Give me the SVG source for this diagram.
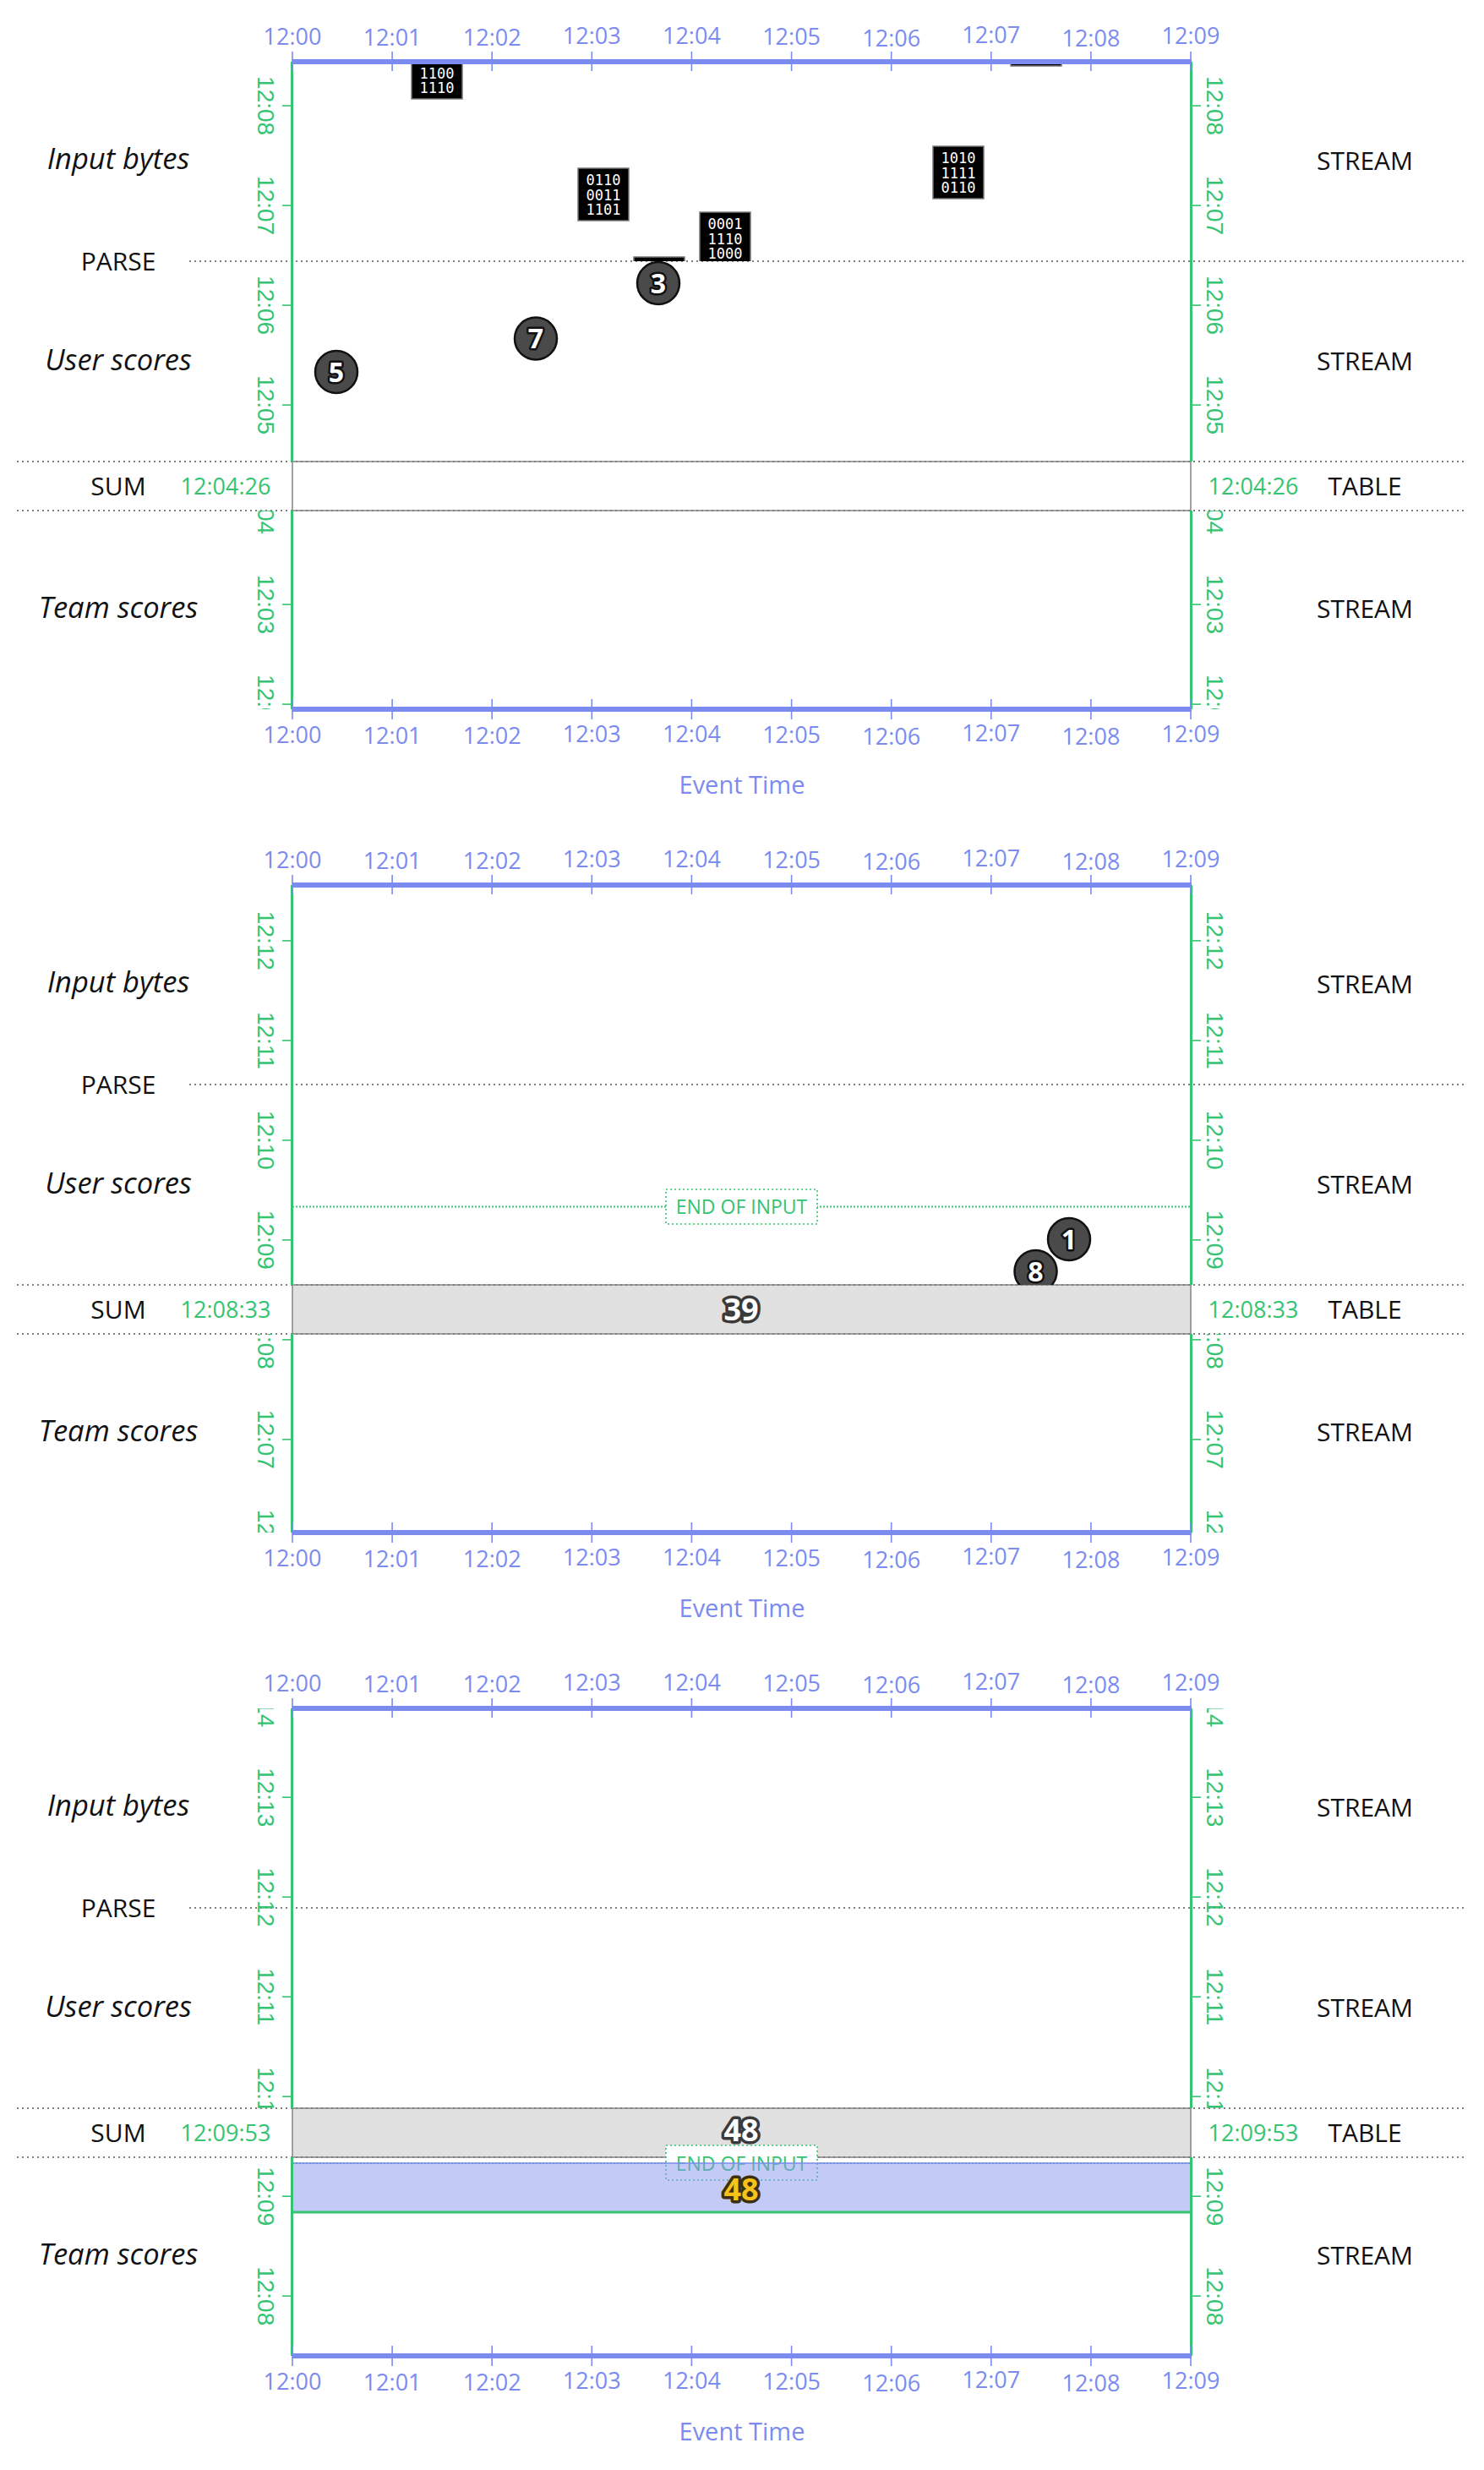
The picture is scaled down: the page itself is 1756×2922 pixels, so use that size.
<svg xmlns="http://www.w3.org/2000/svg" width="1756" height="2922" viewBox="0 0 1756 2922">
<style>
.bg{fill:#fff}
.bax{fill:#7b8bef}
.tk{stroke:#7b8bef;stroke-width:1.6}
.gax{stroke:#34c472;stroke-width:3;fill:none}
.gtk{stroke:#34c472;stroke-width:1.6}
.tl{font-family:"Open Sans","Liberation Sans",sans-serif;font-size:27px;fill:#7b8bef;text-anchor:middle}
.gl{font-family:"Liberation Sans",Arial,sans-serif;font-size:28px;fill:#34c472;text-anchor:middle}
.gt{font-family:"Open Sans","Liberation Sans",sans-serif;font-size:27px;fill:#34c472;text-anchor:middle}
.lab{font-family:"Open Sans","Liberation Sans",sans-serif;font-size:30px;fill:#111;text-anchor:middle}
.it{font-style:italic;font-size:34.5px}
.et{font-family:"Open Sans","Liberation Sans",sans-serif;font-size:29px;fill:#7b8bef;text-anchor:middle}
.dot{stroke:#808080;stroke-width:2;stroke-dasharray:2 4;fill:none}
.band{stroke:#8a8a8a;stroke-width:1.6}
.blk{fill:#000;stroke:#777;stroke-width:1.5}
.bt{font-family:"DejaVu Sans Mono","Liberation Mono",monospace;font-size:17px;fill:#fff;text-anchor:middle}
.circ{fill:#4a4a4a;stroke:#111;stroke-width:2.5}
.cn{font-family:"Open Sans","Liberation Sans",sans-serif;font-weight:700;font-size:32px;fill:#fff;stroke:#111;stroke-width:5;paint-order:stroke;stroke-linejoin:round;text-anchor:middle}
.big{font-family:"Open Sans","Liberation Sans",sans-serif;font-weight:700;font-size:36px;stroke-width:7;paint-order:stroke;stroke-linejoin:round;text-anchor:middle}
.eol{stroke:#34c472;stroke-width:2;stroke-dasharray:2 2;fill:none}
.eob{fill:#fff;stroke:#34c472;stroke-width:1.6;stroke-dasharray:2 3}
.eot{font-family:"Open Sans","Liberation Sans",sans-serif;font-size:23px;fill:#34c472;text-anchor:middle}
</style>
<defs>
<clipPath id="cTop"><rect x="0" y="73" width="1756" height="473"/></clipPath>
<clipPath id="cTeam"><rect x="0" y="604" width="1756" height="235"/></clipPath>
<clipPath id="cInp"><rect x="346" y="73" width="1063" height="236"/></clipPath>
<clipPath id="cUsr"><rect x="346" y="309" width="1063" height="237"/></clipPath>
</defs>
<rect class="bg" x="0" y="0" width="1756" height="2922"/>

<!-- ================= PANEL 1 ================= -->
<g id="panel1">
<g id="p1-rows">
<rect id="p1-sum" class="band" x="346" y="546" width="1063" height="58" fill="#fff"/>
<line class="dot" x1="224" y1="309" x2="1734" y2="309"/>
<line class="dot" x1="20" y1="546" x2="1734" y2="546"/>
<line class="dot" x1="20" y1="604" x2="1734" y2="604"/>
</g>
<g id="p1-events">
<g clip-path="url(#cInp)">
<g id="p1-b1"><rect class="blk" x="487" y="55" width="60" height="62"/><text class="bt" x="517" y="92.5">1100</text><text class="bt" x="517" y="110">1110</text></g>
<g id="p1-b2"><rect class="blk" x="684" y="199" width="60" height="62"/><text class="bt" x="714" y="219">0110</text><text class="bt" x="714" y="236.5">0011</text><text class="bt" x="714" y="254">1101</text></g>
<g id="p1-b3"><rect class="blk" x="828" y="251" width="60" height="62"/><text class="bt" x="858" y="271">0001</text><text class="bt" x="858" y="288.5">1110</text><text class="bt" x="858" y="306">1000</text></g>
<g id="p1-b4"><rect class="blk" x="1104" y="173" width="60" height="62"/><text class="bt" x="1134" y="193">1010</text><text class="bt" x="1134" y="210.5">1111</text><text class="bt" x="1134" y="228">0110</text></g>
<g id="p1-b5"><rect class="blk" x="1196" y="16" width="60" height="62"/></g>
<g id="p1-b6"><rect class="blk" x="750" y="304" width="60" height="62"/></g>
</g>
<g clip-path="url(#cUsr)">
<g id="p1-c5"><circle class="circ" cx="398" cy="440" r="25"/><text class="cn" x="398" y="451.5">5</text></g>
<g id="p1-c7"><circle class="circ" cx="634" cy="400.5" r="25"/><text class="cn" x="634" y="412">7</text></g>
<g id="p1-c3"><circle class="circ" cx="779" cy="335" r="25"/><text class="cn" x="779" y="346.5">3</text></g>
</g>
</g>
<g id="p1-ptime">
<g clip-path="url(#cTop)">
<line class="gtk" x1="334" y1="125.1" x2="345" y2="125.1"/><line class="gtk" x1="1410" y1="125.1" x2="1421" y2="125.1"/>
<line class="gtk" x1="334" y1="243.1" x2="345" y2="243.1"/><line class="gtk" x1="1410" y1="243.1" x2="1421" y2="243.1"/>
<line class="gtk" x1="334" y1="361.1" x2="345" y2="361.1"/><line class="gtk" x1="1410" y1="361.1" x2="1421" y2="361.1"/>
<line class="gtk" x1="334" y1="479.1" x2="345" y2="479.1"/><line class="gtk" x1="1410" y1="479.1" x2="1421" y2="479.1"/>
<text class="gl" transform="translate(305,125.1) rotate(90)">12:08</text><text class="gl" transform="translate(1428,125.1) rotate(90)">12:08</text>
<text class="gl" transform="translate(305,243.1) rotate(90)">12:07</text><text class="gl" transform="translate(1428,243.1) rotate(90)">12:07</text>
<text class="gl" transform="translate(305,361.1) rotate(90)">12:06</text><text class="gl" transform="translate(1428,361.1) rotate(90)">12:06</text>
<text class="gl" transform="translate(305,479.1) rotate(90)">12:05</text><text class="gl" transform="translate(1428,479.1) rotate(90)">12:05</text>
</g>
<g clip-path="url(#cTeam)">
<line class="gtk" x1="334" y1="715.1" x2="345" y2="715.1"/><line class="gtk" x1="1410" y1="715.1" x2="1421" y2="715.1"/>
<line class="gtk" x1="334" y1="833.1" x2="345" y2="833.1"/><line class="gtk" x1="1410" y1="833.1" x2="1421" y2="833.1"/>
<text class="gl" transform="translate(305,597.1) rotate(90)">12:04</text><text class="gl" transform="translate(1428,597.1) rotate(90)">12:04</text>
<text class="gl" transform="translate(305,715.1) rotate(90)">12:03</text><text class="gl" transform="translate(1428,715.1) rotate(90)">12:03</text>
<text class="gl" transform="translate(305,833.1) rotate(90)">12:02</text><text class="gl" transform="translate(1428,833.1) rotate(90)">12:02</text>
</g>
</g>
<g id="p1-axes">
<line class="gax" x1="345.5" y1="73" x2="345.5" y2="546"/><line class="gax" x1="345.5" y1="604" x2="345.5" y2="839"/>
<line class="gax" x1="1409.5" y1="73" x2="1409.5" y2="546"/><line class="gax" x1="1409.5" y1="604" x2="1409.5" y2="839"/>
<rect class="bax" x="346" y="70" width="1064" height="6"/>
<rect class="bax" x="346" y="836" width="1064" height="6"/>
<line class="tk" x1="346" y1="61" x2="346" y2="84"/><line class="tk" x1="464.1" y1="61" x2="464.1" y2="84"/><line class="tk" x1="582.2" y1="61" x2="582.2" y2="84"/><line class="tk" x1="700.3" y1="61" x2="700.3" y2="84"/><line class="tk" x1="818.4" y1="61" x2="818.4" y2="84"/><line class="tk" x1="936.6" y1="61" x2="936.6" y2="84"/><line class="tk" x1="1054.7" y1="61" x2="1054.7" y2="84"/><line class="tk" x1="1172.8" y1="61" x2="1172.8" y2="84"/><line class="tk" x1="1290.9" y1="61" x2="1290.9" y2="84"/><line class="tk" x1="1409" y1="61" x2="1409" y2="84"/>
<line class="tk" x1="346" y1="827" x2="346" y2="851"/><line class="tk" x1="464.1" y1="827" x2="464.1" y2="851"/><line class="tk" x1="582.2" y1="827" x2="582.2" y2="851"/><line class="tk" x1="700.3" y1="827" x2="700.3" y2="851"/><line class="tk" x1="818.4" y1="827" x2="818.4" y2="851"/><line class="tk" x1="936.6" y1="827" x2="936.6" y2="851"/><line class="tk" x1="1054.7" y1="827" x2="1054.7" y2="851"/><line class="tk" x1="1172.8" y1="827" x2="1172.8" y2="851"/><line class="tk" x1="1290.9" y1="827" x2="1290.9" y2="851"/><line class="tk" x1="1409" y1="827" x2="1409" y2="851"/>
</g>
<g id="p1-etime">
<text class="tl" x="346" y="53">12:00</text><text class="tl" x="464.1" y="53.5">12:01</text><text class="tl" x="582.2" y="53.5">12:02</text><text class="tl" x="700.3" y="52">12:03</text><text class="tl" x="818.4" y="52">12:04</text><text class="tl" x="936.6" y="53">12:05</text><text class="tl" x="1054.7" y="54.5">12:06</text><text class="tl" x="1172.8" y="51">12:07</text><text class="tl" x="1290.9" y="54.5">12:08</text><text class="tl" x="1409" y="52">12:09</text>
<text class="tl" x="346" y="879">12:00</text><text class="tl" x="464.1" y="879.5">12:01</text><text class="tl" x="582.2" y="879.5">12:02</text><text class="tl" x="700.3" y="878">12:03</text><text class="tl" x="818.4" y="878">12:04</text><text class="tl" x="936.6" y="879">12:05</text><text class="tl" x="1054.7" y="880.5">12:06</text><text class="tl" x="1172.8" y="877">12:07</text><text class="tl" x="1290.9" y="880.5">12:08</text><text class="tl" x="1409" y="878">12:09</text>
<text class="et" x="878" y="939">Event Time</text>
</g>
<g id="p1-labels">
<text class="lab it" x="140" y="200">Input bytes</text>
<text class="lab" x="140" y="319.5">PARSE</text>
<text class="lab it" x="140" y="438">User scores</text>
<text class="lab" x="140" y="585.5">SUM</text>
<text class="lab it" x="140" y="731">Team scores</text>
<text class="lab" x="1615" y="201">STREAM</text>
<text class="lab" x="1615" y="438">STREAM</text>
<text class="lab" x="1615" y="585.5">TABLE</text>
<text class="lab" x="1615" y="731">STREAM</text>
<text class="gt" x="267" y="585">12:04:26</text>
<text class="gt" x="1483" y="585">12:04:26</text>
</g>
</g>

<!-- ================= PANEL 2 ================= -->
<g id="panel2" transform="translate(0,974)">
<g id="p2-rows">
<rect id="p2-sum" class="band" x="346" y="546" width="1063" height="58" fill="#e0e0e0"/>
<line class="dot" x1="224" y1="309" x2="1734" y2="309"/>
<line class="dot" x1="20" y1="546" x2="1734" y2="546"/>
<line class="dot" x1="20" y1="604" x2="1734" y2="604"/>
<text id="p2-val" class="big" x="877" y="588" fill="#fff" stroke="#3a3a3a">39</text>
</g>
<g id="p2-events">
<g id="p2-eoi"><line class="eol" x1="346" y1="453.5" x2="1409" y2="453.5"/><rect class="eob" x="788" y="433" width="179" height="41"/><text class="eot" x="877.5" y="462">END OF INPUT</text></g>
<g clip-path="url(#cUsr)">
<g id="p2-c1"><circle class="circ" cx="1265" cy="492" r="25"/><text class="cn" x="1265" y="503.5">1</text></g>
<g id="p2-c8"><circle class="circ" cx="1225.5" cy="530" r="25"/><text class="cn" x="1225.5" y="541.5">8</text></g>
</g>
</g>
<g id="p2-ptime">
<g clip-path="url(#cTop)">
<line class="gtk" x1="334" y1="138.9" x2="345" y2="138.9"/><line class="gtk" x1="1410" y1="138.9" x2="1421" y2="138.9"/>
<line class="gtk" x1="334" y1="256.9" x2="345" y2="256.9"/><line class="gtk" x1="1410" y1="256.9" x2="1421" y2="256.9"/>
<line class="gtk" x1="334" y1="374.9" x2="345" y2="374.9"/><line class="gtk" x1="1410" y1="374.9" x2="1421" y2="374.9"/>
<line class="gtk" x1="334" y1="492.9" x2="345" y2="492.9"/><line class="gtk" x1="1410" y1="492.9" x2="1421" y2="492.9"/>
<text class="gl" transform="translate(305,138.9) rotate(90)">12:12</text><text class="gl" transform="translate(1428,138.9) rotate(90)">12:12</text>
<text class="gl" transform="translate(305,256.9) rotate(90)">12:11</text><text class="gl" transform="translate(1428,256.9) rotate(90)">12:11</text>
<text class="gl" transform="translate(305,374.9) rotate(90)">12:10</text><text class="gl" transform="translate(1428,374.9) rotate(90)">12:10</text>
<text class="gl" transform="translate(305,492.9) rotate(90)">12:09</text><text class="gl" transform="translate(1428,492.9) rotate(90)">12:09</text>
</g>
<g clip-path="url(#cTeam)">
<line class="gtk" x1="334" y1="610.9" x2="345" y2="610.9"/><line class="gtk" x1="1410" y1="610.9" x2="1421" y2="610.9"/>
<line class="gtk" x1="334" y1="728.9" x2="345" y2="728.9"/><line class="gtk" x1="1410" y1="728.9" x2="1421" y2="728.9"/>
<text class="gl" transform="translate(305,610.9) rotate(90)">12:08</text><text class="gl" transform="translate(1428,610.9) rotate(90)">12:08</text>
<text class="gl" transform="translate(305,728.9) rotate(90)">12:07</text><text class="gl" transform="translate(1428,728.9) rotate(90)">12:07</text>
<text class="gl" transform="translate(305,846.9) rotate(90)">12:06</text><text class="gl" transform="translate(1428,846.9) rotate(90)">12:06</text>
</g>
</g>
<g id="p2-axes">
<line class="gax" x1="345.5" y1="73" x2="345.5" y2="546"/><line class="gax" x1="345.5" y1="604" x2="345.5" y2="839"/>
<line class="gax" x1="1409.5" y1="73" x2="1409.5" y2="546"/><line class="gax" x1="1409.5" y1="604" x2="1409.5" y2="839"/>
<rect class="bax" x="346" y="70" width="1064" height="6"/>
<rect class="bax" x="346" y="836" width="1064" height="6"/>
<line class="tk" x1="346" y1="61" x2="346" y2="84"/><line class="tk" x1="464.1" y1="61" x2="464.1" y2="84"/><line class="tk" x1="582.2" y1="61" x2="582.2" y2="84"/><line class="tk" x1="700.3" y1="61" x2="700.3" y2="84"/><line class="tk" x1="818.4" y1="61" x2="818.4" y2="84"/><line class="tk" x1="936.6" y1="61" x2="936.6" y2="84"/><line class="tk" x1="1054.7" y1="61" x2="1054.7" y2="84"/><line class="tk" x1="1172.8" y1="61" x2="1172.8" y2="84"/><line class="tk" x1="1290.9" y1="61" x2="1290.9" y2="84"/><line class="tk" x1="1409" y1="61" x2="1409" y2="84"/>
<line class="tk" x1="346" y1="827" x2="346" y2="851"/><line class="tk" x1="464.1" y1="827" x2="464.1" y2="851"/><line class="tk" x1="582.2" y1="827" x2="582.2" y2="851"/><line class="tk" x1="700.3" y1="827" x2="700.3" y2="851"/><line class="tk" x1="818.4" y1="827" x2="818.4" y2="851"/><line class="tk" x1="936.6" y1="827" x2="936.6" y2="851"/><line class="tk" x1="1054.7" y1="827" x2="1054.7" y2="851"/><line class="tk" x1="1172.8" y1="827" x2="1172.8" y2="851"/><line class="tk" x1="1290.9" y1="827" x2="1290.9" y2="851"/><line class="tk" x1="1409" y1="827" x2="1409" y2="851"/>
</g>
<g id="p2-etime">
<text class="tl" x="346" y="53">12:00</text><text class="tl" x="464.1" y="53.5">12:01</text><text class="tl" x="582.2" y="53.5">12:02</text><text class="tl" x="700.3" y="52">12:03</text><text class="tl" x="818.4" y="52">12:04</text><text class="tl" x="936.6" y="53">12:05</text><text class="tl" x="1054.7" y="54.5">12:06</text><text class="tl" x="1172.8" y="51">12:07</text><text class="tl" x="1290.9" y="54.5">12:08</text><text class="tl" x="1409" y="52">12:09</text>
<text class="tl" x="346" y="879">12:00</text><text class="tl" x="464.1" y="879.5">12:01</text><text class="tl" x="582.2" y="879.5">12:02</text><text class="tl" x="700.3" y="878">12:03</text><text class="tl" x="818.4" y="878">12:04</text><text class="tl" x="936.6" y="879">12:05</text><text class="tl" x="1054.7" y="880.5">12:06</text><text class="tl" x="1172.8" y="877">12:07</text><text class="tl" x="1290.9" y="880.5">12:08</text><text class="tl" x="1409" y="878">12:09</text>
<text class="et" x="878" y="939">Event Time</text>
</g>
<g id="p2-labels">
<text class="lab it" x="140" y="200">Input bytes</text>
<text class="lab" x="140" y="319.5">PARSE</text>
<text class="lab it" x="140" y="438">User scores</text>
<text class="lab" x="140" y="585.5">SUM</text>
<text class="lab it" x="140" y="731">Team scores</text>
<text class="lab" x="1615" y="201">STREAM</text>
<text class="lab" x="1615" y="438">STREAM</text>
<text class="lab" x="1615" y="585.5">TABLE</text>
<text class="lab" x="1615" y="731">STREAM</text>
<text class="gt" x="267" y="585">12:08:33</text>
<text class="gt" x="1483" y="585">12:08:33</text>
</g>
</g>

<!-- ================= PANEL 3 ================= -->
<g id="panel3" transform="translate(0,1948)">
<g id="p3-rows">
<rect id="p3-sum" class="band" x="346" y="546" width="1063" height="58" fill="#e0e0e0"/>
<line class="dot" x1="224" y1="309" x2="1734" y2="309"/>
<line class="dot" x1="20" y1="546" x2="1734" y2="546"/>
<line class="dot" x1="20" y1="604" x2="1734" y2="604"/>
<text id="p3-val" class="big" x="877" y="585" fill="#fff" stroke="#3a3a3a">48</text>
</g>
<g id="p3-events">
<g id="p3-eoi"><line class="eol" x1="346" y1="611" x2="1409" y2="611"/><rect class="eob" x="788" y="590" width="179" height="41"/><text class="eot" x="877.5" y="619.5" fill="#49b59c">END OF INPUT</text></g>
<g id="p3-out">
<rect x="346" y="611" width="1063" height="58" fill="#8796ee" fill-opacity="0.5"/>
<line x1="346" y1="611" x2="1409" y2="611" stroke="#7b8bef" stroke-width="1.6"/>
<line x1="346" y1="669" x2="1409" y2="669" stroke="#34c472" stroke-width="3"/>
<text id="p3-val2" class="big" x="877" y="655" fill="#f7c31b" stroke="#3b3010">48</text>
</g>
</g>
<g id="p3-ptime">
<g clip-path="url(#cTop)">
<line class="gtk" x1="334" y1="60.2" x2="345" y2="60.2"/>
<line class="gtk" x1="334" y1="178.2" x2="345" y2="178.2"/><line class="gtk" x1="1410" y1="178.2" x2="1421" y2="178.2"/>
<line class="gtk" x1="334" y1="296.2" x2="345" y2="296.2"/><line class="gtk" x1="1410" y1="296.2" x2="1421" y2="296.2"/>
<line class="gtk" x1="334" y1="414.2" x2="345" y2="414.2"/><line class="gtk" x1="1410" y1="414.2" x2="1421" y2="414.2"/>
<line class="gtk" x1="334" y1="532.2" x2="345" y2="532.2"/><line class="gtk" x1="1410" y1="532.2" x2="1421" y2="532.2"/>
<text class="gl" transform="translate(305,60.2) rotate(90)">12:14</text><text class="gl" transform="translate(1428,60.2) rotate(90)">12:14</text>
<text class="gl" transform="translate(305,178.2) rotate(90)">12:13</text><text class="gl" transform="translate(1428,178.2) rotate(90)">12:13</text>
<text class="gl" transform="translate(305,296.2) rotate(90)">12:12</text><text class="gl" transform="translate(1428,296.2) rotate(90)">12:12</text>
<text class="gl" transform="translate(305,414.2) rotate(90)">12:11</text><text class="gl" transform="translate(1428,414.2) rotate(90)">12:11</text>
<text class="gl" transform="translate(305,532.2) rotate(90)">12:10</text><text class="gl" transform="translate(1428,532.2) rotate(90)">12:10</text>
</g>
<g clip-path="url(#cTeam)">
<line class="gtk" x1="334" y1="650.2" x2="345" y2="650.2"/><line class="gtk" x1="1410" y1="650.2" x2="1421" y2="650.2"/>
<line class="gtk" x1="334" y1="768.2" x2="345" y2="768.2"/><line class="gtk" x1="1410" y1="768.2" x2="1421" y2="768.2"/>
<text class="gl" transform="translate(305,650.2) rotate(90)">12:09</text><text class="gl" transform="translate(1428,650.2) rotate(90)">12:09</text>
<text class="gl" transform="translate(305,768.2) rotate(90)">12:08</text><text class="gl" transform="translate(1428,768.2) rotate(90)">12:08</text>
</g>
</g>
<g id="p3-axes">
<line class="gax" x1="345.5" y1="73" x2="345.5" y2="546"/><line class="gax" x1="345.5" y1="604" x2="345.5" y2="839"/>
<line class="gax" x1="1409.5" y1="73" x2="1409.5" y2="546"/><line class="gax" x1="1409.5" y1="604" x2="1409.5" y2="839"/>
<rect class="bax" x="346" y="70" width="1064" height="6"/>
<rect class="bax" x="346" y="836" width="1064" height="6"/>
<line class="tk" x1="346" y1="61" x2="346" y2="84"/><line class="tk" x1="464.1" y1="61" x2="464.1" y2="84"/><line class="tk" x1="582.2" y1="61" x2="582.2" y2="84"/><line class="tk" x1="700.3" y1="61" x2="700.3" y2="84"/><line class="tk" x1="818.4" y1="61" x2="818.4" y2="84"/><line class="tk" x1="936.6" y1="61" x2="936.6" y2="84"/><line class="tk" x1="1054.7" y1="61" x2="1054.7" y2="84"/><line class="tk" x1="1172.8" y1="61" x2="1172.8" y2="84"/><line class="tk" x1="1290.9" y1="61" x2="1290.9" y2="84"/><line class="tk" x1="1409" y1="61" x2="1409" y2="84"/>
<line class="tk" x1="346" y1="827" x2="346" y2="851"/><line class="tk" x1="464.1" y1="827" x2="464.1" y2="851"/><line class="tk" x1="582.2" y1="827" x2="582.2" y2="851"/><line class="tk" x1="700.3" y1="827" x2="700.3" y2="851"/><line class="tk" x1="818.4" y1="827" x2="818.4" y2="851"/><line class="tk" x1="936.6" y1="827" x2="936.6" y2="851"/><line class="tk" x1="1054.7" y1="827" x2="1054.7" y2="851"/><line class="tk" x1="1172.8" y1="827" x2="1172.8" y2="851"/><line class="tk" x1="1290.9" y1="827" x2="1290.9" y2="851"/><line class="tk" x1="1409" y1="827" x2="1409" y2="851"/>
</g>
<g id="p3-etime">
<text class="tl" x="346" y="53">12:00</text><text class="tl" x="464.1" y="53.5">12:01</text><text class="tl" x="582.2" y="53.5">12:02</text><text class="tl" x="700.3" y="52">12:03</text><text class="tl" x="818.4" y="52">12:04</text><text class="tl" x="936.6" y="53">12:05</text><text class="tl" x="1054.7" y="54.5">12:06</text><text class="tl" x="1172.8" y="51">12:07</text><text class="tl" x="1290.9" y="54.5">12:08</text><text class="tl" x="1409" y="52">12:09</text>
<text class="tl" x="346" y="879">12:00</text><text class="tl" x="464.1" y="879.5">12:01</text><text class="tl" x="582.2" y="879.5">12:02</text><text class="tl" x="700.3" y="878">12:03</text><text class="tl" x="818.4" y="878">12:04</text><text class="tl" x="936.6" y="879">12:05</text><text class="tl" x="1054.7" y="880.5">12:06</text><text class="tl" x="1172.8" y="877">12:07</text><text class="tl" x="1290.9" y="880.5">12:08</text><text class="tl" x="1409" y="878">12:09</text>
<text class="et" x="878" y="939">Event Time</text>
</g>
<g id="p3-labels">
<text class="lab it" x="140" y="200">Input bytes</text>
<text class="lab" x="140" y="319.5">PARSE</text>
<text class="lab it" x="140" y="438">User scores</text>
<text class="lab" x="140" y="585.5">SUM</text>
<text class="lab it" x="140" y="731">Team scores</text>
<text class="lab" x="1615" y="201">STREAM</text>
<text class="lab" x="1615" y="438">STREAM</text>
<text class="lab" x="1615" y="585.5">TABLE</text>
<text class="lab" x="1615" y="731">STREAM</text>
<text class="gt" x="267" y="585">12:09:53</text>
<text class="gt" x="1483" y="585">12:09:53</text>
</g>
</g>
</svg>
